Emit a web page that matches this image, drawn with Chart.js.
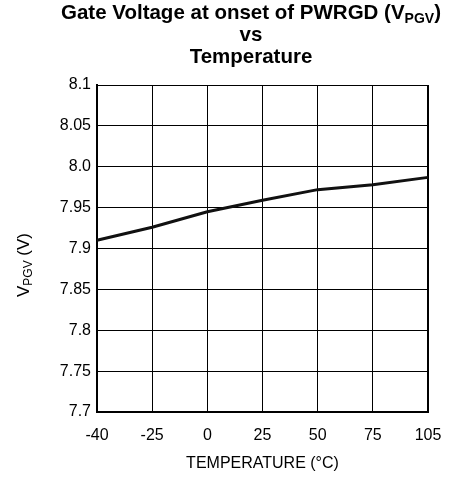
<!DOCTYPE html>
<html>
<head>
<meta charset="utf-8">
<script src="https://cdn.jsdelivr.net/npm/chart.js@4"></script>
<style>
  html, body { margin: 0; padding: 0; background: #fff; }
  #wrap { width: 457px; height: 477px; }
</style>
</head>
<body>
<div id="wrap"><canvas id="gateChart" width="457" height="477"></canvas></div>
<script>
// data
const temperatures = ["-40", "-25", "0", "25", "50", "75", "105"];
const gateVoltage = [7.910, 7.926, 7.945, 7.959, 7.972, 7.978, 7.987];
const yTickValues = [7.7, 7.75, 7.8, 7.85, 7.9, 7.95, 8.0, 8.05, 8.1];
const yTickLabels = ["7.7", "7.75", "7.8", "7.85", "7.9", "7.95", "8.0", "8.05", "8.1"];

const FONT = "'Liberation Sans', Arial, sans-serif";

// draws text parts one after another (for subscripts)
function drawSubText(ctx, parts, x, y, align) {
    let total = 0;
    parts.forEach(p => {
        ctx.font = p.font;
        p.w = ctx.measureText(p.text).width;
        total += p.w;
    });
    let cx = align === "center" ? x - total / 2 : x;
    ctx.textAlign = "left";
    ctx.textBaseline = "alphabetic";
    parts.forEach(p => {
        ctx.font = p.font;
        ctx.fillText(p.text, cx, y + (p.dy || 0));
        cx += p.w;
    });
}

const labelsPlugin = {
    id: "labelsPlugin",
    afterDraw(chart) {
        const ctx = chart.ctx;
        ctx.save();
        ctx.fillStyle = "#000";

        // title, three lines
        const tx = 251;
        drawSubText(ctx, [
            { text: "Gate Voltage at onset of PWRGD (V", font: "bold 20.5px " + FONT },
            { text: "PGV", font: "bold 14px " + FONT, dy: 4 },
            { text: ")", font: "bold 20.5px " + FONT }
        ], tx, 19, "center");
        drawSubText(ctx, [{ text: "vs", font: "bold 20.5px " + FONT }], tx, 41, "center");
        drawSubText(ctx, [{ text: "Temperature", font: "bold 20.5px " + FONT }], tx, 63, "center");

        // y axis title, rotated
        ctx.translate(29, 265);
        ctx.rotate(-Math.PI / 2);
        drawSubText(ctx, [
            { text: "V", font: "17px " + FONT },
            { text: "PGV", font: "12px " + FONT, dy: 3 },
            { text: " (V)", font: "17px " + FONT }
        ], 0, 0, "center");

        ctx.restore();
    }
};

const ctx = document.getElementById("gateChart").getContext("2d");

new Chart(ctx, {
    type: "line",
    data: {
        labels: temperatures,
        datasets: [
            {
                label: "VPGV",
                data: gateVoltage,
                borderColor: "#111",
                borderWidth: 3,
                pointRadius: 0,
                tension: 0
            }
        ]
    },
    options: {
        responsive: false,
        animation: false,
        layout: {
            padding: { top: 85, right: 29, left: 0, bottom: 0 }
        },
        plugins: {
            legend: { display: false },
            tooltip: { enabled: false }
        },
        scales: {
            x: {
                offset: false,
                grid: {
                    color: "#000",
                    lineWidth: c => (c.index === temperatures.length - 1 ? 2 : 1),
                    drawTicks: false
                },
                border: { color: "#000", width: 2 },
                ticks: {
                    color: "#000",
                    padding: 14,
                    maxRotation: 0,
                    autoSkip: false,
                    font: { family: FONT, size: 16 }
                },
                title: {
                    display: true,
                    text: "TEMPERATURE (\u00B0C)",
                    color: "#000",
                    font: { family: FONT, size: 16 },
                    padding: { top: 0, bottom: 4 }
                },
                afterFit(scale) { scale.height = 65; }
            },
            y: {
                min: 7.7,
                max: 8.1,
                grid: {
                    color: "#000",
                    lineWidth: 1,
                    drawTicks: false
                },
                border: { color: "#000", width: 2 },
                ticks: {
                    color: "#000",
                    padding: 6,
                    font: { family: FONT, size: 16 },
                    callback: (v, i) => yTickLabels[i]
                },
                afterBuildTicks(scale) {
                    scale.ticks = yTickValues.map(v => ({ value: v }));
                },
                afterFit(scale) { scale.width = 97; }
            }
        }
    },
    plugins: [labelsPlugin]
});
</script>
</body>
</html>
